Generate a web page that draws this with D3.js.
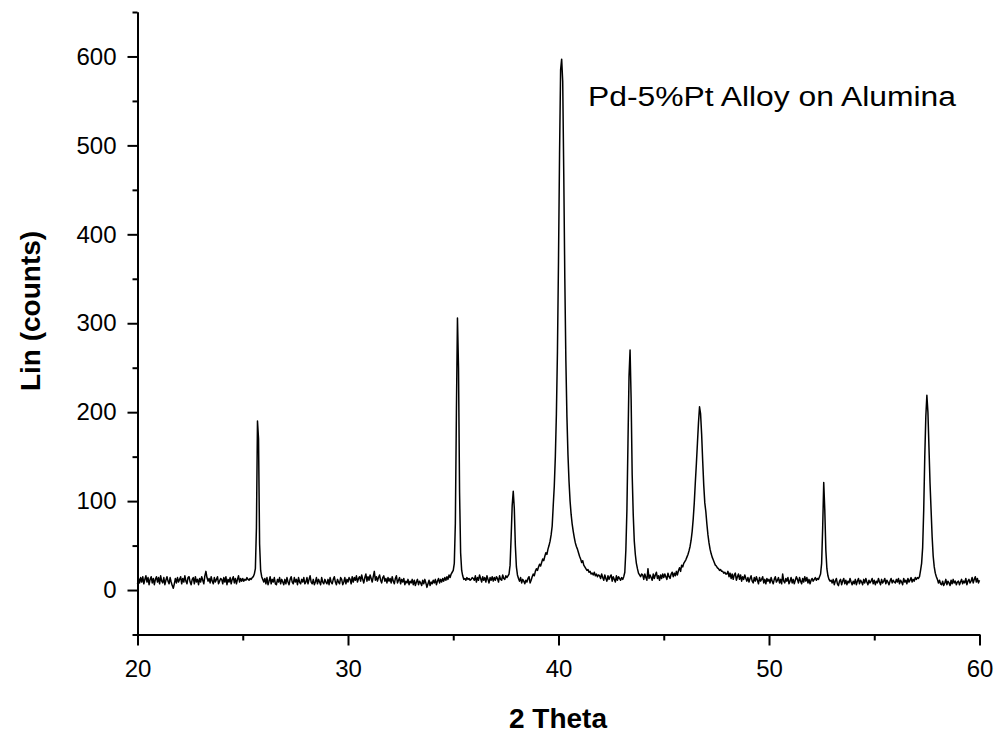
<!DOCTYPE html>
<html>
<head>
<meta charset="utf-8">
<script src="https://cdn.jsdelivr.net/npm/d3@7"></script>
<style>
    body { margin: 0; background: #fff; }
    svg { display: block; font-family: Arial, "Liberation Sans", sans-serif; }
    .axis path, .axis line { stroke: #000; stroke-width: 2; }
    .axis text { fill: #000; font-size: 24px; }
</style>
</head>
<body>
<svg id="chart" width="999" height="734"></svg>
<script>
// scan: 2-theta from 20 to 60 deg, 0.05 deg per step
var scanStart = 20;
var scanStep = 0.05;

// counts, one row per degree (20 readings each)
var counts20to30 = [
    7, 13, 8, 14, 9, 15, 7, 12, 16, 9, 14, 6, 12, 15, 8, 13, 6, 12, 15, 9,
    14, 7, 16, 10, 8, 14, 6, 11, 15, 10, 7, 14, 9, 5, 2, 7, 13, 8, 14, 9,
    12, 15, 7, 13, 9, 16, 10, 7, 14, 15, 9, 6, 12, 14, 7, 15, 9, 12, 6, 13,
    9, 15, 11, 7, 16, 21, 14, 10, 13, 8, 15, 10, 7, 14, 9, 12, 15, 7, 10, 13,
    12, 7, 14, 9, 15, 6, 12, 9, 14, 7, 12, 15, 8, 13, 7, 12, 16, 9, 13, 10,
    13, 10, 12, 11, 14, 12, 11, 13, 12, 14, 15, 18, 24, 70, 190, 170, 52, 22, 15, 12,
    9, 13, 7, 14, 6, 10, 15, 7, 12, 9, 14, 7, 6, 12, 9, 14, 7, 12, 9, 6,
    12, 7, 14, 9, 6, 12, 15, 9, 7, 14, 9, 12, 6, 14, 9, 7, 12, 9, 14, 7,
    9, 14, 7, 12, 16, 9, 7, 12, 6, 9, 14, 7, 12, 9, 6, 14, 9, 7, 12, 9,
    7, 12, 6, 14, 9, 7, 12, 15, 9, 6, 12, 9, 7, 14, 12, 6, 9, 14, 7, 12
];
var counts30to40 = [
    9, 14, 12, 7, 15, 9, 14, 11, 16, 9, 13, 15, 10, 17, 12, 8, 14, 18, 10, 15,
    11, 17, 13, 9, 15, 21, 11, 15, 10, 14, 17, 11, 8, 14, 16, 10, 13, 8, 14, 10,
    13, 8, 15, 10, 7, 13, 16, 8, 11, 14, 7, 12, 9, 13, 6, 10, 8, 12, 6, 10,
    8, 12, 6, 11, 5, 9, 12, 6, 10, 8, 5, 11, 7, 12, 8, 3, 7, 11, 5, 9,
    7, 11, 8, 12, 6, 10, 13, 8, 12, 9, 13, 10, 14, 11, 15, 12, 17, 14, 18, 20,
    22, 30, 75, 200, 306, 250, 110, 42, 22, 16, 12, 13, 11, 14, 12, 13, 11, 12, 14, 13,
    11, 16, 9, 14, 11, 17, 13, 9, 15, 11, 14, 9, 16, 12, 8, 14, 11, 15, 10, 14,
    11, 15, 13, 9, 16, 12, 11, 17, 13, 12, 16, 14, 16, 18, 28, 60, 95, 111, 92, 50,
    26, 17, 13, 10, 14, 8, 12, 10, 7, 11, 9, 13, 15, 8, 11, 15, 18, 16, 21, 24,
    22, 26, 29, 27, 31, 35, 33, 38, 42, 40, 46, 50, 55, 62, 72, 95, 117, 150, 198, 268
];
var counts40to50 = [
    370, 490, 585, 597, 572, 468, 350, 258, 195, 152, 122, 100, 85, 74, 66, 59, 53, 49, 46, 42,
    38, 35, 31, 33, 28, 26, 24, 22, 23, 20, 21, 18, 19, 17, 20, 16, 18, 15, 17, 16,
    13, 18, 14, 11, 17, 13, 10, 16, 12, 15, 17, 10, 15, 12, 9, 16, 11, 15, 13, 11,
    14, 12, 15, 20, 45, 90, 165, 240, 270, 215, 130, 85, 55, 40, 30, 24, 19, 17, 15, 18,
    17, 12, 18, 14, 11, 24, 13, 17, 14, 11, 18, 13, 17, 20, 13, 16, 11, 17, 13, 18,
    14, 18, 15, 12, 19, 15, 13, 18, 20, 15, 19, 16, 21, 17, 22, 25, 21, 28, 26, 30,
    32, 34, 37, 40, 44, 49, 56, 66, 80, 98, 121, 142, 165, 188, 206, 198, 175, 145, 118, 98,
    88, 74, 62, 53, 46, 41, 37, 34, 31, 28, 27, 25, 24, 22, 23, 21, 21, 19, 20, 18,
    18, 21, 15, 19, 13, 18, 12, 17, 19, 11, 15, 18, 12, 17, 10, 15, 12, 17, 13, 10,
    14, 9, 13, 16, 10, 8, 14, 10, 15, 11, 7, 14, 10, 12, 15, 8, 12, 7, 13, 10
];
var counts50to60 = [
    12, 8, 14, 10, 7, 12, 15, 9, 11, 14, 8, 12, 7, 18, 10, 8, 13, 10, 14, 7,
    10, 14, 8, 12, 7, 11, 15, 12, 8, 14, 10, 7, 13, 9, 15, 10, 14, 8, 12, 7,
    11, 13, 10, 12, 14, 11, 13, 12, 15, 18, 30, 70, 121, 90, 45, 24, 16, 12, 10, 11,
    8, 12, 6, 10, 13, 7, 5, 10, 12, 6, 10, 13, 7, 11, 6, 10, 8, 13, 9, 6,
    10, 7, 12, 6, 10, 13, 7, 11, 9, 6, 12, 8, 13, 9, 6, 11, 8, 10, 13, 7,
    11, 6, 10, 8, 13, 9, 6, 12, 8, 10, 13, 7, 11, 9, 6, 10, 13, 8, 11, 9,
    8, 12, 9, 13, 7, 11, 9, 6, 13, 9, 11, 7, 13, 9, 11, 14, 9, 12, 10, 14,
    12, 14, 13, 15, 22, 30, 48, 90, 150, 195, 219, 200, 160, 120, 90, 60, 38, 26, 19, 15,
    12, 8, 11, 7, 6, 10, 5, 8, 12, 6, 10, 8, 5, 11, 7, 12, 8, 10, 6, 9,
    10, 6, 9, 12, 7, 10, 8, 13, 6, 10, 12, 8, 10, 14, 8, 12, 15, 9, 13, 8,
    11
];

var xMajorTicks = [20, 30, 40, 50, 60];
var xMinorTicks = [25, 35, 45, 55];
var yMajorTicks = [0, 100, 200, 300, 400, 500, 600];
var yMinorTicks = [-50, 50, 150, 250, 350, 450, 550, 650];

var chartTitle = 'Pd-5%Pt Alloy on Alumina';
var xTitle = '2 Theta';
var yTitle = 'Lin (counts)';

var counts = counts20to30.concat(counts30to40, counts40to50, counts50to60);
var scan = counts.map(function (c, i) {
    return { theta: +(scanStart + i * scanStep).toFixed(2), count: c };
});

var svg = d3.select('#chart');

var x = d3.scaleLinear().domain([20, 60]).range([137.5, 979.5]);
var y = d3.scaleLinear().domain([-50, 650]).range([634.5, 12]);

// axes
svg.append('g')
    .attr('class', 'axis')
    .attr('transform', 'translate(0,634.5)')
    .call(d3.axisBottom(x).tickValues(xMinorTicks).tickSize(6).tickSizeOuter(0).tickFormat(''));
svg.append('g')
    .attr('class', 'axis')
    .attr('transform', 'translate(0,634.5)')
    .call(d3.axisBottom(x).tickValues(xMajorTicks).tickSize(11).tickSizeOuter(0).tickPadding(14));

svg.append('g')
    .attr('class', 'axis')
    .attr('transform', 'translate(137.5,0)')
    .call(d3.axisLeft(y).tickValues(yMinorTicks).tickSize(5).tickSizeOuter(0).tickFormat(''));
svg.append('g')
    .attr('class', 'axis')
    .attr('transform', 'translate(137.5,0)')
    .call(d3.axisLeft(y).tickValues(yMajorTicks).tickSize(10).tickSizeOuter(0).tickPadding(11));

// pattern
var line = d3.line()
    .x(function (d) { return x(d.theta); })
    .y(function (d) { return y(d.count); });

svg.append('path')
    .datum(scan)
    .attr('fill', 'none')
    .attr('stroke', '#000')
    .attr('stroke-width', 1.5)
    .attr('stroke-linejoin', 'round')
    .attr('d', line);

// texts
svg.append('text')
    .attr('x', 588)
    .attr('y', 106)
    .attr('textLength', 368)
    .attr('lengthAdjust', 'spacingAndGlyphs')
    .style('font-size', '27px')
    .text(chartTitle);

svg.append('text')
    .attr('x', 558)
    .attr('y', 728)
    .attr('text-anchor', 'middle')
    .style('font-size', '28px')
    .style('font-weight', 'bold')
    .text(xTitle);

svg.append('text')
    .attr('transform', 'translate(40,311) rotate(-90)')
    .attr('text-anchor', 'middle')
    .style('font-size', '28px')
    .style('font-weight', 'bold')
    .text(yTitle);
</script>
</body>
</html>
